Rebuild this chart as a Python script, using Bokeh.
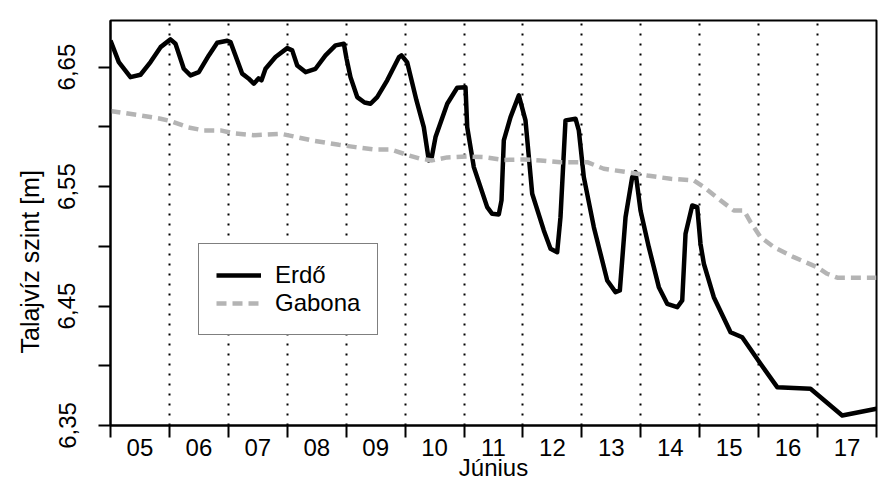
from bokeh.plotting import figure
from bokeh.models import Range1d, FixedTicker, Legend, LegendItem, Title
from bokeh.embed import file_html
from bokeh.resources import INLINE

# ---- data (day of June as fractional day, groundwater level in m) ----
erdo_day = [5.000, 5.141, 5.339, 5.509, 5.679, 5.849, 6.018, 6.103, 6.244, 6.358,
            6.499, 6.668, 6.811, 6.981, 7.037, 7.235, 7.342, 7.432, 7.512, 7.563,
            7.631, 7.800, 7.999, 8.084, 8.169, 8.310, 8.479, 8.649, 8.819, 8.960,
            9.005, 9.073, 9.187, 9.311, 9.413, 9.526, 9.696, 9.893, 9.939, 10.036,
            10.193, 10.317, 10.402, 10.448, 10.516, 10.715, 10.884, 11.025, 11.054, 11.166,
            11.393, 11.478, 11.590, 11.636, 11.675, 11.789, 11.930, 12.043, 12.157, 12.354,
            12.468, 12.581, 12.637, 12.722, 12.892, 12.948, 13.033, 13.203, 13.430, 13.571,
            13.644, 13.741, 13.854, 13.910, 13.995, 14.136, 14.306, 14.448, 14.618, 14.703,
            14.759, 14.873, 14.958, 15.013, 15.070, 15.239, 15.523, 15.721, 16.032, 16.315,
            16.880, 17.418, 18.000]
erdo_level = [6.6723, 6.6542, 6.6416, 6.6436, 6.6542, 6.6667, 6.6732, 6.6696, 6.6486, 6.6430,
              6.6458, 6.6598, 6.6704, 6.6721, 6.6709, 6.6445, 6.6405, 6.6361, 6.6405, 6.6389,
              6.6486, 6.6584, 6.6659, 6.6640, 6.6514, 6.6458, 6.6486, 6.6598, 6.6682, 6.6696,
              6.6573, 6.6416, 6.6249, 6.6204, 6.6193, 6.6249, 6.6389, 6.6581, 6.6598, 6.6539,
              6.6221, 6.5997, 6.5719, 6.5735, 6.5914, 6.6193, 6.6327, 6.6332, 6.5997, 6.5663,
              6.5328, 6.5272, 6.5267, 6.5384, 6.5886, 6.6081, 6.6263, 6.6054, 6.5440, 6.5133,
              6.4979, 6.4951, 6.5244, 6.6054, 6.6068, 6.5970, 6.5579, 6.5160, 6.4714, 6.4616,
              6.4630, 6.5244, 6.5579, 6.5621, 6.5300, 6.4993, 6.4658, 6.4519, 6.4490, 6.4547,
              6.5105, 6.5342, 6.5328, 6.5021, 6.4854, 6.4574, 6.4281, 6.4239, 6.4017, 6.3821,
              6.3807, 6.3584, 6.3640]

gabona_day = [5.000, 5.509, 5.849, 6.018, 6.324, 6.583, 6.867, 7.093, 7.432, 7.885,
              8.084, 8.423, 8.875, 9.158, 9.469, 9.752, 10.036, 10.261, 10.460, 10.715,
              11.054, 11.336, 11.670, 12.015, 12.298, 12.637, 13.091, 13.372, 13.882, 14.109,
              14.504, 14.900, 15.070, 15.353, 15.579, 15.749, 15.862, 16.032, 16.257, 16.597,
              16.994, 17.164, 17.334, 18.000]
gabona_level = [6.6133, 6.6095, 6.6068, 6.6049, 6.5995, 6.5970, 6.5970, 6.5945, 6.5930, 6.5942,
                6.5922, 6.5886, 6.5850, 6.5830, 6.5811, 6.5811, 6.5765, 6.5733, 6.5719, 6.5744,
                6.5752, 6.5746, 6.5723, 6.5727, 6.5719, 6.5704, 6.5704, 6.5649, 6.5612, 6.5593,
                6.5565, 6.5551, 6.5495, 6.5384, 6.5300, 6.5300, 6.5202, 6.5077, 6.4993, 6.4909,
                6.4825, 6.4770, 6.4737, 6.4737]

day_bounds = [5, 6, 7, 8, 9, 10, 11, 12, 13, 14, 15, 16, 17, 18]
day_centers = [5.5, 6.5, 7.5, 8.5, 9.5, 10.5, 11.5, 12.5, 13.5, 14.5, 15.5, 16.5, 17.5]
day_labels = ["05", "06", "07", "08", "09", "10", "11", "12", "13", "14", "15", "16", "17"]
month_label = "Június"
y_major = [6.35, 6.45, 6.55, 6.65]
y_minor = [6.40, 6.50, 6.60]
y_labels = ["6,35", "6,45", "6,55", "6,65"]
y_title = "Talajvíz szint [m]"

FONT = "Liberation Sans"

p = figure(frame_width=766, frame_height=405,
           x_range=Range1d(5, 18), y_range=Range1d(6.35, 6.689),
           output_backend="svg", toolbar_location=None,
           min_border_left=110, min_border_right=10,
           min_border_top=20, min_border_bottom=53,
           background_fill_color="white", border_fill_color="white")

p.outline_line_color = "black"
p.outline_line_width = 2

# x axis: labels centred in each day, ticks at day boundaries; the month name
# is written as a second line under the middle day's label (frame centre)
x_overrides = dict(zip(day_centers, day_labels))
x_overrides[11.5] = day_labels[6] + "\n" + month_label
xa = p.xaxis[0]
xa.ticker = FixedTicker(ticks=day_centers, minor_ticks=day_bounds)
xa.major_label_overrides = x_overrides
xa.major_tick_out = 0
xa.major_tick_in = 0
xa.minor_tick_out = 12
xa.minor_tick_in = 0
xa.minor_tick_line_color = "black"
xa.minor_tick_line_width = 2
xa.axis_line_width = 2
xa.axis_line_color = "black"
xa.major_label_text_font = FONT
xa.major_label_text_font_size = "24px"
xa.major_label_text_color = "black"
xa.major_label_text_line_height = 0.76
xa.major_label_standoff = -4

ya = p.yaxis[0]
ya.ticker = FixedTicker(ticks=y_major, minor_ticks=y_minor)
ya.major_label_overrides = dict(zip(y_major, y_labels))
ya.major_tick_out = 12
ya.major_tick_in = 0
ya.minor_tick_out = 12
ya.minor_tick_in = 0
ya.major_tick_line_width = 2
ya.minor_tick_line_width = 2
ya.major_tick_line_color = "black"
ya.minor_tick_line_color = "black"
ya.axis_line_width = 2
ya.axis_line_color = "black"
ya.major_label_orientation = "vertical"
ya.major_label_text_font = FONT
ya.major_label_text_font_size = "24px"
ya.major_label_text_color = "black"
ya.major_label_standoff = 23

p.xgrid.ticker = FixedTicker(ticks=day_bounds)
p.xgrid.grid_line_color = "black"
p.xgrid.grid_line_dash = "2 8"
p.xgrid.grid_line_width = 2
p.ygrid.visible = False

r1 = p.line(erdo_day, erdo_level, line_color="black", line_width=4.5, line_join="round")
r2 = p.line(gabona_day, gabona_level, line_color="#b4b4b4", line_width=4.5, line_dash="10 6")

legend = Legend(items=[LegendItem(label="Erdő", renderers=[r1]),
                       LegendItem(label="Gabona", renderers=[r2])],
                location=(88, 90), margin=0, padding=17, spacing=0,
                glyph_width=45, glyph_height=28, label_height=28, label_standoff=14,
                label_text_font=FONT, label_text_font_size="24px", label_text_color="black",
                border_line_color="black", border_line_width=1.5,
                background_fill_color="white", background_fill_alpha=1.0)
p.add_layout(legend)

yt = Title(text=y_title, align="left", offset=72, standoff=23,
           text_font=FONT, text_font_size="25px", text_font_style="normal",
           text_color="black")
p.add_layout(yt, "left")

open("out.html", "w").write(file_html(p, INLINE))
